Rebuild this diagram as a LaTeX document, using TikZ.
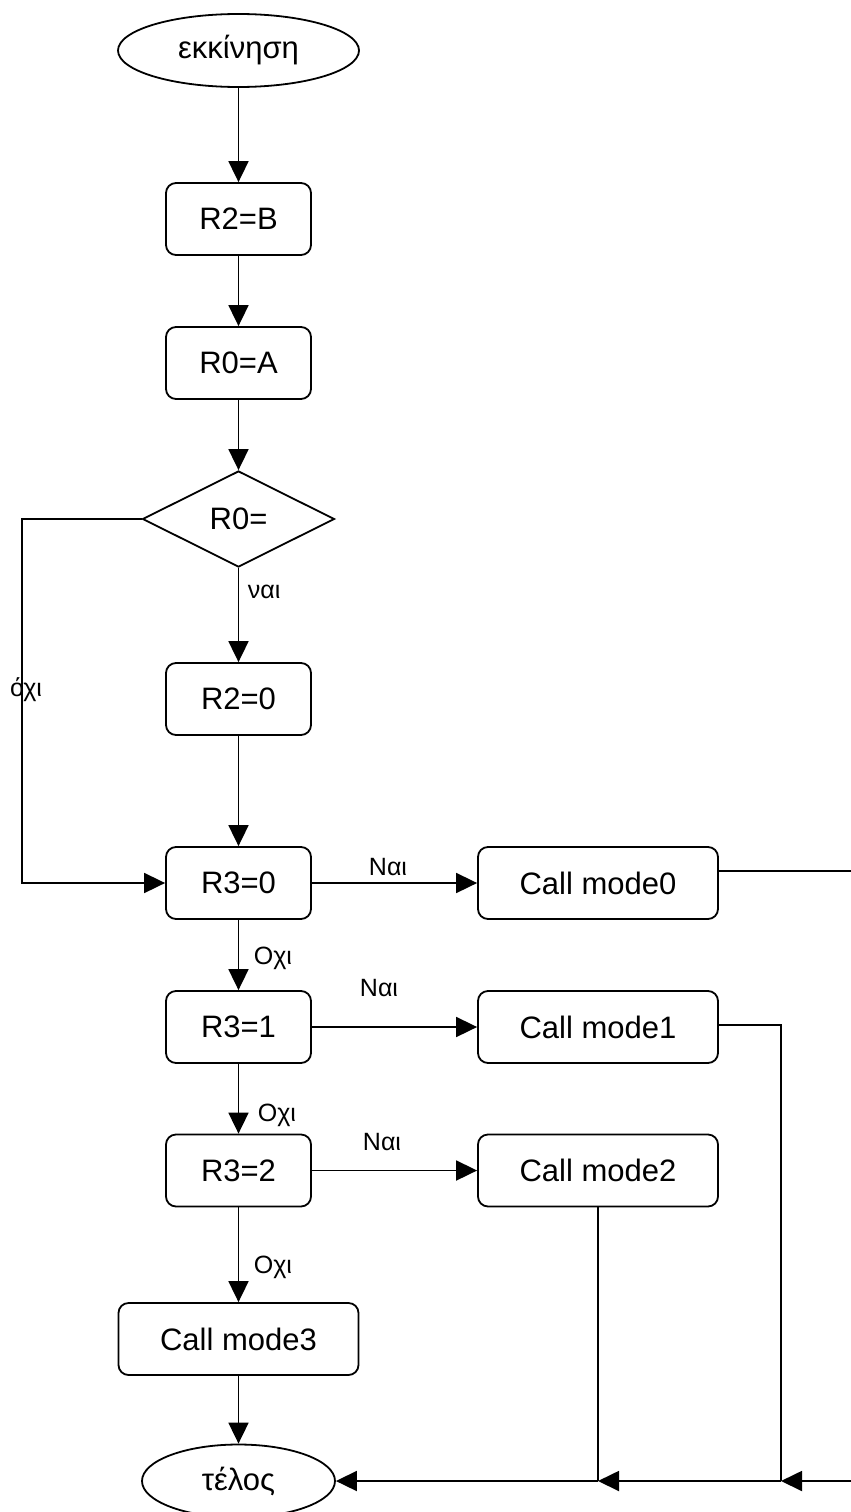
\documentclass[tikz,border=0pt]{standalone}
\usepackage{fontspec}
\setmainfont{Liberation Sans}
\usetikzlibrary{shapes.geometric,arrows.meta}
\begin{document}
\begin{tikzpicture}[x=1pt,y=-1pt,
  line width=1.8pt,
  every node/.style={inner sep=0pt, font=\fontsize{31}{37}\selectfont},
  proc/.style={draw, rectangle, rounded corners=10pt, minimum width=145pt, minimum height=72pt},
  wide/.style={proc, minimum width=240pt},
  term/.style={draw, ellipse, minimum height=73pt},
  decision/.style={draw, diamond, minimum width=192pt, minimum height=96pt},
  lbl/.style={font=\fontsize{25}{30}\selectfont},
  arr/.style={-{Triangle[length=21pt,width=20pt]}}
]
% page frame
\fill[white] (0,0) rectangle (851,1512);
\useasboundingbox (0,0) rectangle (851,1512);

% main column
\node[term, minimum width=241pt] (start) at (238.5,50.5) {εκκίνηση};
\node[proc] (r2b) at (238.5,219) {R2=B};
\node[proc] (r0a) at (238.5,363) {R0=A};
\node[decision] (dec) at (238.5,519) {R0=};
\node[proc] (r20) at (238.5,699) {R2=0};
\node[proc] (r30) at (238.5,883) {R3=0};
\node[proc] (r31) at (238.5,1027) {R3=1};
\node[proc] (r32) at (238.5,1170.5) {R3=2};
\node[wide] (cm3) at (238.5,1339) {Call mode3};
\node[term, minimum width=193pt] (end) at (238.5,1481) {τέλος};

% mode calls
\node[wide] (cm0) at (598,883) {Call mode0};
\node[wide] (cm1) at (598,1027) {Call mode1};
\node[wide] (cm2) at (598,1170.5) {Call mode2};

% branch labels
\node[lbl, anchor=west] (l1) at (247,592) {ναι};
\node[lbl] (l2) at (26,690) {όχι};
\node[lbl] (l3) at (388,867) {Ναι};
\node[lbl, anchor=west] (l4) at (253,958) {Οχι};
\node[lbl] (l5) at (379,988) {Ναι};
\node[lbl, anchor=west] (l6) at (257,1115) {Οχι};
\node[lbl] (l7) at (382,1142) {Ναι};
\node[lbl, anchor=west] (l8) at (253,1267) {Οχι};

% routing points
\coordinate (lft) at (22,519);
\coordinate (eR0) at (851,871);
\coordinate (eR1) at (851,1481);
\coordinate (jR) at (781,1481);
\coordinate (jM) at (598,1481);

% vertical flow
\draw[arr] (start) -- (r2b);
\draw[arr] (r2b) -- (r0a);
\draw[arr] (r0a) -- (dec);
\draw[arr] (dec) -- (r20);
\draw[arr] (r20) -- (r30);
\draw[arr] (r30) -- (r31);
\draw[arr] (r31) -- (r32);
\draw[arr] (r32) -- (cm3);
\draw[arr] (cm3) -- (end);

% "no" branch of the test
\draw[arr] (dec.west) -- (lft) |- (r30.west);

% "yes" branches
\draw[arr] (r30) -- (cm0);
\draw[arr] (r31) -- (cm1);
\draw[arr] (r32) -- (cm2);

% return paths to the end
\draw ([yshift=12pt]cm0.east) -- (eR0);
\draw[arr] (eR1) -- (jR);
\draw ([yshift=2pt]cm1.east) -| (jR);
\draw[arr] (jR) -- (jM);
\draw (cm2.south) -- (jM);
\draw[arr] (jM) -- (end.east);
\end{tikzpicture}
\end{document}
